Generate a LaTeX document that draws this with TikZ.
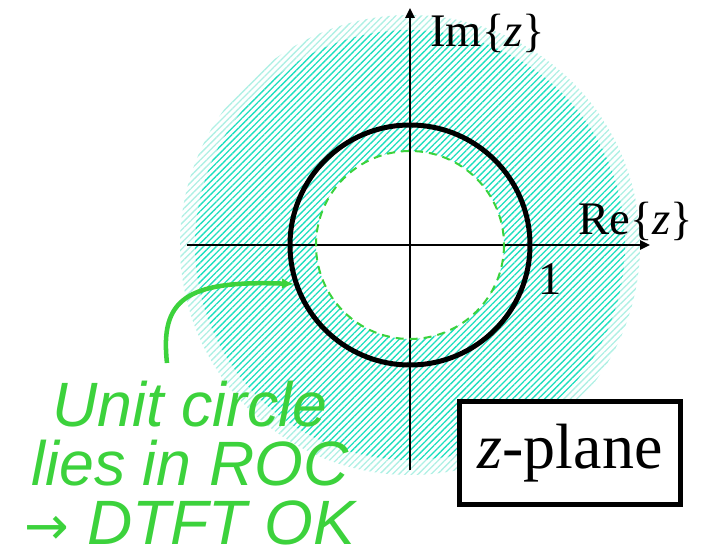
\documentclass[tikz,border=0pt]{standalone}
\usepackage{fontspec}
\setmainfont{Liberation Serif}
\newfontfamily\notefont{Liberation Sans}
\newfontfamily\arrowfont{DejaVu Sans}
\usetikzlibrary{arrows.meta,patterns.meta}
\definecolor{roc}{RGB}{30,222,190}
\definecolor{rocfade}{RGB}{175,240,228}
\definecolor{notegreen}{RGB}{60,210,60}

\begin{document}
\begin{tikzpicture}[x=0.75pt,y=-0.75pt,
    axis/.style={line width=1.5pt,-{Triangle[length=7.5pt,width=7pt]}},
    hatch/.style={pattern={Lines[angle=45,distance=3.4pt,line width=1pt]},pattern color=#1},
    lbl/.style={anchor=base west,inner sep=0pt,font=\fontsize{35}{40}\selectfont}]
  \useasboundingbox (0,0) rectangle (702,559);
  \coordinate (o) at (410,245);

  % ROC: hatched ring, fading at the outer edge
  \path[hatch=rocfade,even odd rule] (o) circle[radius=230] (o) circle[radius=215];
  \path[hatch=roc,even odd rule] (o) circle[radius=215] (o) circle[radius=94];

  % axes
  \coordinate (ybot) at (410,470);
  \coordinate (ytop) at (410,8);
  \coordinate (xleft) at (187,245);
  \coordinate (xright) at (650,245);
  \draw[axis] (ybot) -- (ytop);
  \draw[axis] (xleft) -- (xright);

  % pole radius (dashed) and unit circle
  \draw[notegreen,line width=1.5pt,dash pattern=on 6pt off 4.5pt] (o) circle[radius=94];
  \draw[line width=3.75pt] (o) circle[radius=120];

  \node[lbl] (im) at (430,47) {Im\{\textit{z}\}};
  \node[lbl] (re) at (578,235) {Re\{\textit{z}\}};
  \node[lbl] (one) at (538,295) {1};

  \node[draw,line width=3.75pt,fill=white,minimum width=166pt,minimum height=77pt,
        font=\fontsize{48}{52}\selectfont] (plane) at (570,453) {\textit{z}-plane};

  % remark with arrow onto the unit circle
  \node[notegreen,align=center,anchor=base,inner sep=0pt,text depth=0pt,
        font=\notefont\itshape\fontsize{47}{44}\selectfont] (note) at (190,544)
        {Unit circle\\lies in ROC\\{\arrowfont\upshape\fontsize{40}{44}\selectfont →} DTFT OK};
  \coordinate (tail) at (167,363);
  \coordinate (hit) at (294,284);
  \draw[notegreen,line width=3.4pt,-{Latex[length=9pt,width=8pt]}]
    (tail) .. controls (160,300) and (185,280) .. (hit);
\end{tikzpicture}
\end{document}
